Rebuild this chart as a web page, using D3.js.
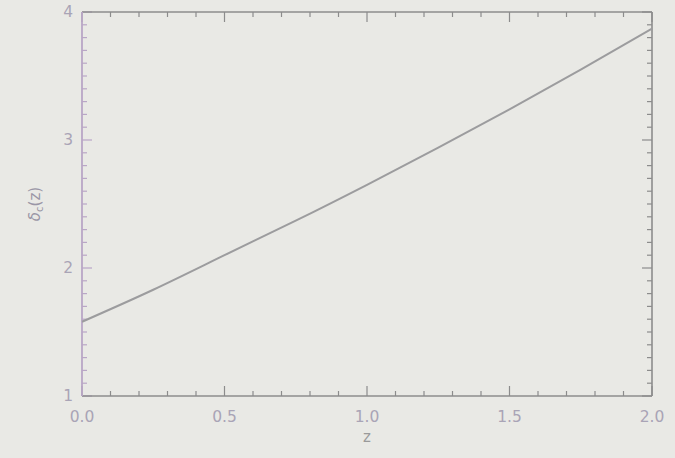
<!DOCTYPE html>
<html>
<head>
<meta charset="utf-8">
<script src="https://cdn.jsdelivr.net/npm/d3@7"></script>
<style>
  html, body { margin: 0; padding: 0; background: #e9e9e5; }
  svg { display: block; }
</style>
</head>
<body>
<svg id="chart" width="675" height="458"></svg>
<script>
// Critical collapse threshold as a function of redshift
const redshift = [0.0, 0.25, 0.5, 0.75, 1.0, 1.25, 1.5, 1.75, 2.0];
const deltaC   = [1.58, 1.83, 2.10, 2.37, 2.65, 2.94, 3.24, 3.55, 3.87];

const xTickValues = [0.0, 0.5, 1.0, 1.5, 2.0];
const xTickLabels = ["0.0", "0.5", "1.0", "1.5", "2.0"];
const yTickValues = [1, 2, 3, 4];
const yTickLabels = ["1", "2", "3", "4"];

const W = 675, H = 458;
const margin = { left: 82, right: 23, top: 12, bottom: 62 };
const svg = d3.select("#chart");

const x = d3.scaleLinear().domain([0, 2]).range([margin.left, W - margin.right]);
const y = d3.scaleLinear().domain([1, 4]).range([H - margin.bottom, margin.top]);

const frameColor = "#8c8c8c";
const leftColor = "#b9a6c6";
const labelColor = "#a9a4b6";
const font = "'DejaVu Sans', sans-serif";

const x0 = x.range()[0], x1 = x.range()[1];
const y0 = y.range()[0], y1 = y.range()[1];

// Minor tick positions (every 0.1 on both axes)
const xMinor = d3.range(0, 2.0001, 0.1).map(v => +v.toFixed(2));
const yMinor = d3.range(1, 4.0001, 0.1).map(v => +v.toFixed(2));
const isMajor = (v) => Math.abs(v * 2 - Math.round(v * 2)) < 1e-6;
const isMajorY = (v) => Math.abs(v - Math.round(v)) < 1e-6;

const g = svg.append("g");

// Inward ticks along bottom and top
xMinor.forEach(v => {
  const len = isMajor(v) ? 10 : 5;
  g.append("line").attr("x1", x(v)).attr("x2", x(v)).attr("y1", y0).attr("y2", y0 - len)
    .attr("stroke", frameColor).attr("stroke-width", 1.2);
  g.append("line").attr("x1", x(v)).attr("x2", x(v)).attr("y1", y1).attr("y2", y1 + len)
    .attr("stroke", frameColor).attr("stroke-width", 1.2);
});

// Inward ticks along left and right
yMinor.forEach(v => {
  const len = isMajorY(v) ? 10 : 5;
  g.append("line").attr("x1", x0).attr("x2", x0 + len).attr("y1", y(v)).attr("y2", y(v))
    .attr("stroke", leftColor).attr("stroke-width", 1.2);
  g.append("line").attr("x1", x1).attr("x2", x1 - len).attr("y1", y(v)).attr("y2", y(v))
    .attr("stroke", frameColor).attr("stroke-width", 1.2);
});

// Frame
g.append("line").attr("x1", x0).attr("x2", x1).attr("y1", y0).attr("y2", y0)
  .attr("stroke", frameColor).attr("stroke-width", 1.6);
g.append("line").attr("x1", x0).attr("x2", x1).attr("y1", y1).attr("y2", y1)
  .attr("stroke", frameColor).attr("stroke-width", 1.6);
g.append("line").attr("x1", x1).attr("x2", x1).attr("y1", y0).attr("y2", y1)
  .attr("stroke", frameColor).attr("stroke-width", 1.6);
g.append("line").attr("x1", x0).attr("x2", x0).attr("y1", y0).attr("y2", y1)
  .attr("stroke", leftColor).attr("stroke-width", 1.8);

// Tick labels
xTickValues.forEach((v, i) => {
  svg.append("text").attr("x", x(v)).attr("y", y0 + 26)
    .attr("text-anchor", "middle").attr("font-family", font).attr("font-size", 15.5)
    .attr("fill", labelColor).text(xTickLabels[i]);
});
yTickValues.forEach((v, i) => {
  svg.append("text").attr("x", x0 - 9).attr("y", y(v) + 5)
    .attr("text-anchor", "end").attr("font-family", font).attr("font-size", 15.5)
    .attr("fill", labelColor).text(yTickLabels[i]);
});

// Axis titles
svg.append("text").attr("x", (x0 + x1) / 2).attr("y", y0 + 46)
  .attr("text-anchor", "middle").attr("font-family", font).attr("font-size", 15)
  .attr("fill", "#9a9a9a").text("z");

const yt = svg.append("text")
  .attr("transform", `translate(40, ${(y0 + y1) / 2}) rotate(-90)`)
  .attr("text-anchor", "middle").attr("font-family", font).attr("font-size", 15)
  .attr("fill", "#9a96a6");
yt.append("tspan").attr("font-style", "italic").text("δ");
yt.append("tspan").attr("font-size", 10).attr("dy", 3).text("c");
yt.append("tspan").attr("dy", -3).text("(z)");

// Curve
const pts = redshift.map((z, i) => [z, deltaC[i]]);
const line = d3.line().x(d => x(d[0])).y(d => y(d[1])).curve(d3.curveNatural);
svg.append("path").datum(pts).attr("d", line)
  .attr("fill", "none").attr("stroke", "#9c9c9e").attr("stroke-width", 2);
</script>
</body>
</html>
